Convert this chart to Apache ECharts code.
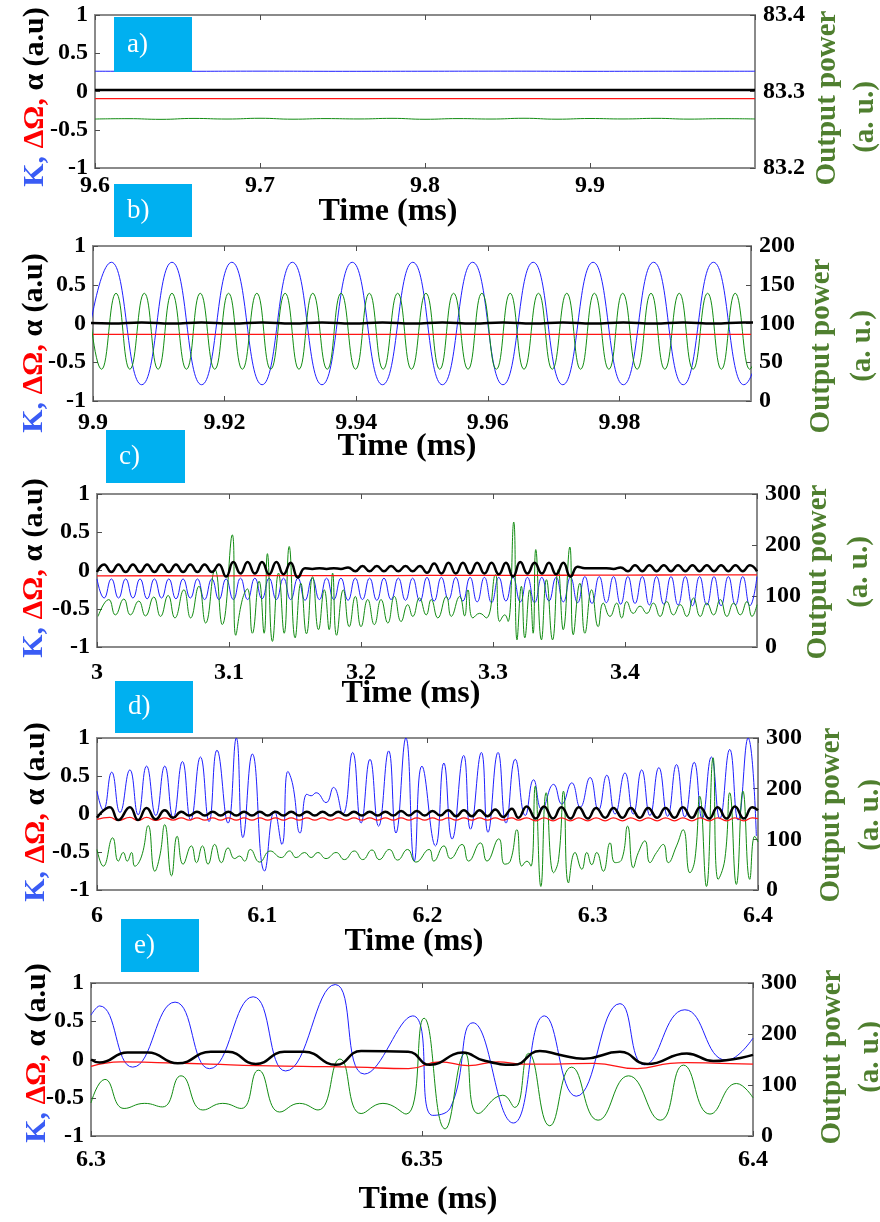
<!DOCTYPE html>
<html>
<head>
<meta charset="utf-8">
<script src="https://cdn.jsdelivr.net/npm/echarts@6/dist/echarts.min.js"></script>
<style>
  html, body { margin: 0; padding: 0; background: #ffffff; }
  #chart { width: 880px; height: 1222px; }
</style>
</head>
<body>
<div id="chart"></div>
<script>
// ---------------- Panel a) : 9.6 – 10 ms, steady state ----------------
const timeA = [9.6, 9.65, 9.7, 9.75, 9.8, 9.85, 9.9, 9.95, 10.0];
const kA = [0.265, 0.264, 0.266, 0.264, 0.265, 0.266, 0.264, 0.265, 0.265];
const dOmegaA = [-0.094, -0.094, -0.094, -0.094, -0.094, -0.094, -0.094, -0.094, -0.094];
const alphaA = [0.02, 0.02, 0.02, 0.02, 0.02, 0.02, 0.02, 0.02, 0.02];
const timePowerA = [9.6, 9.62, 9.64, 9.66, 9.68, 9.7, 9.72, 9.74, 9.76, 9.78, 9.8,
  9.82, 9.84, 9.86, 9.88, 9.9, 9.92, 9.94, 9.96, 9.98, 10.0];
const powerA = [83.2640, 83.2645, 83.2636, 83.2648, 83.2640, 83.2650, 83.2638, 83.2646, 83.2641, 83.2649, 83.2637,
  83.2646, 83.2640, 83.2650, 83.2638, 83.2647, 83.2641, 83.2649, 83.2639, 83.2645, 83.2641];

// ---------------- Panel b) : 9.9 – 10 ms, periodic regime ----------------
const timeB = [9.8982, 9.9028, 9.9074, 9.9120, 9.9165, 9.9211, 9.9257, 9.9303, 9.9348, 9.9394,
  9.9440, 9.9486, 9.9531, 9.9577, 9.9623, 9.9669, 9.9714, 9.9760, 9.9806, 9.9852,
  9.9897, 9.9943, 9.9989, 10.0035];
const kB = [-0.79, 0.79, -0.79, 0.79, -0.79, 0.79, -0.79, 0.79, -0.79, 0.79,
  -0.79, 0.79, -0.79, 0.79, -0.79, 0.79, -0.79, 0.79, -0.79, 0.79,
  -0.79, 0.79, -0.79, 0.79];
const alphaB = [0.014, 0.0, 0.014, 0.0, 0.014, 0.0, 0.014, 0.0, 0.014, 0.0,
  0.014, 0.0, 0.014, 0.0, 0.014, 0.0, 0.014, 0.0, 0.014, 0.0,
  0.014, 0.0, 0.014, 0.0];
const timeRedB = [9.9, 9.95, 10.0];
const dOmegaB = [-0.14, -0.14, -0.14];
const timePowerB = [9.8992, 9.9013, 9.9035, 9.9056, 9.9078, 9.9099, 9.9120, 9.9142, 9.9163, 9.9185,
  9.9206, 9.9227, 9.9249, 9.9270, 9.9292, 9.9313, 9.9334, 9.9356, 9.9377, 9.9399,
  9.9420, 9.9441, 9.9463, 9.9484, 9.9506, 9.9527, 9.9548, 9.9570, 9.9591, 9.9613,
  9.9634, 9.9655, 9.9677, 9.9698, 9.9720, 9.9741, 9.9762, 9.9784, 9.9805, 9.9827,
  9.9848, 9.9869, 9.9891, 9.9912, 9.9934, 9.9955, 9.9976, 9.9998, 10.0019];
const powerB = [139, 41, 139, 41, 139, 41, 139, 41, 139, 41,
  139, 41, 139, 41, 139, 41, 139, 41, 139, 41,
  139, 41, 139, 41, 139, 41, 139, 41, 139, 41,
  139, 41, 139, 41, 139, 41, 139, 41, 139, 41,
  139, 41, 139, 41, 139, 41, 139, 41, 139];

// ---------------- Panel c) : 3 – 3.5 ms ----------------
const timeC = [3.0000, 3.0054, 3.0109, 3.0163, 3.0217, 3.0272, 3.0326, 3.0380, 3.0435, 3.0489,
  3.0544, 3.0598, 3.0652, 3.0707, 3.0761, 3.0815, 3.0870, 3.0924, 3.0978, 3.1033,
  3.1087, 3.1141, 3.1196, 3.1250, 3.1304, 3.1359, 3.1413, 3.1467, 3.1522, 3.1576,
  3.1631, 3.1685, 3.1739, 3.1794, 3.1848, 3.1902, 3.1957, 3.2011, 3.2065, 3.2120,
  3.2174, 3.2228, 3.2283, 3.2337, 3.2391, 3.2446, 3.2500, 3.2554, 3.2609, 3.2663,
  3.2718, 3.2772, 3.2826, 3.2880, 3.2935, 3.2989, 3.3044, 3.3098, 3.3152, 3.3207,
  3.3261, 3.3315, 3.3370, 3.3424, 3.3478, 3.3533, 3.3587, 3.3641, 3.3696, 3.3750,
  3.3805, 3.3859, 3.3913, 3.3967, 3.4022, 3.4076, 3.4131, 3.4185, 3.4239, 3.4294,
  3.4348, 3.4402, 3.4457, 3.4511, 3.4565, 3.4620, 3.4674, 3.4728, 3.4783, 3.4837,
  3.4892, 3.4946, 3.5000];
const kC = [-0.11, -0.36, -0.11, -0.36, -0.11, -0.36, -0.11, -0.37, -0.11, -0.36,
  -0.11, -0.37, -0.11, -0.36, -0.11, -0.38, -0.11, -0.38, -0.11, -0.38,
  -0.10, -0.38, -0.10, -0.37, -0.10, -0.38, -0.10, -0.38, -0.10, -0.39,
  -0.10, -0.38, -0.10, -0.38, -0.10, -0.39, -0.10, -0.38, -0.10, -0.39,
  -0.10, -0.38, -0.10, -0.39, -0.10, -0.40, -0.09, -0.40, -0.09, -0.38,
  -0.09, -0.40, -0.09, -0.41, -0.09, -0.42, -0.09, -0.40, -0.09, -0.41,
  -0.09, -0.42, -0.09, -0.40, -0.09, -0.41, -0.09, -0.42, -0.08, -0.43,
  -0.08, -0.42, -0.08, -0.44, -0.08, -0.43, -0.08, -0.45, -0.08, -0.44,
  -0.08, -0.45, -0.08, -0.46, -0.08, -0.45, -0.08, -0.46, -0.08, -0.45,
  -0.08, -0.46, -0.08];
const alphaC = [-0.02, 0.08, -0.02, 0.08, -0.02, 0.08, -0.02, 0.08, -0.02, 0.08,
  -0.02, 0.08, -0.02, 0.08, -0.02, 0.08, -0.02, 0.08, -0.08, 0.11,
  -0.04, 0.11, -0.04, 0.11, -0.05, 0.11, -0.05, 0.10, -0.09, 0.03,
  0.02, 0.03, 0.02, 0.03, 0.02, 0.04, -0.01, 0.06, -0.01, 0.06,
  -0.01, 0.06, -0.01, 0.06, -0.01, 0.06, -0.03, 0.09, -0.04, 0.10,
  -0.04, 0.10, -0.04, 0.10, -0.04, 0.10, -0.05, 0.10, -0.08, 0.11,
  -0.04, 0.10, -0.04, 0.10, -0.05, 0.10, -0.08, 0.05, 0.03, 0.03,
  0.03, 0.03, 0.02, 0.04, -0.01, 0.07, -0.01, 0.07, -0.01, 0.07,
  -0.01, 0.07, -0.01, 0.07, -0.01, 0.07, -0.01, 0.07, -0.01, 0.07,
  -0.01, 0.07, -0.01];
const timeRedC = [3.0, 3.05, 3.1, 3.15, 3.2, 3.25, 3.3, 3.35, 3.4, 3.45, 3.5];
const dOmegaC = [-0.07, -0.068, -0.07, -0.066, -0.066, -0.065, -0.064, -0.062, -0.06, -0.058, -0.056];
const timePowerC = [3.0008, 3.0089, 3.0139, 3.0203, 3.0253, 3.0316, 3.0367, 3.0430, 3.0481, 3.0539,
  3.0590, 3.0658, 3.0709, 3.0772, 3.0823, 3.0894, 3.0949, 3.1025, 3.1051, 3.1101,
  3.1139, 3.1177, 3.1228, 3.1266, 3.1291, 3.1329, 3.1375, 3.1418, 3.1456, 3.1501,
  3.1544, 3.1587, 3.1633, 3.1678, 3.1722, 3.1759, 3.1785, 3.1815, 3.1866, 3.1911,
  3.1957, 3.2000, 3.2051, 3.2101, 3.2152, 3.2203, 3.2253, 3.2304, 3.2354, 3.2392,
  3.2443, 3.2494,
  3.2532, 3.2582, 3.2646, 3.2684, 3.2747, 3.2785, 3.2810, 3.2848, 3.2899, 3.2949,
  3.3018, 3.3051, 3.3089, 3.3114, 3.3157, 3.3182, 3.3215, 3.3241, 3.3278, 3.3304,
  3.3324, 3.3367, 3.3405, 3.3451, 3.3494, 3.3532, 3.3582, 3.3608, 3.3658, 3.3696,
  3.3747, 3.3797, 3.3835, 3.3886, 3.3937, 3.3975, 3.4013, 3.4063, 3.4114, 3.4165,
  3.4215, 3.4266, 3.4316, 3.4367, 3.4418, 3.4468, 3.4519, 3.4570, 3.4620, 3.4671,
  3.4722, 3.4772, 3.4823, 3.4873, 3.4924, 3.4962, 3.5000];
const powerC = [60, 93, 63, 94, 63, 90, 61, 98, 60, 101,
  57, 112, 57, 119, 47, 152, 44, 220, 23, 93,
  114, 27, 129, 27, 183, 11, 145, 27, 197, 18,
  125, 26, 138, 34, 112, 34, 145, 23, 112, 40,
  99, 40, 93, 44, 93, 47, 99, 50, 83, 60,
  96, 63,
  93, 57, 99, 60, 99, 61, 112, 57, 66, 57,
  142, 50, 63, 50, 245, 14, 119, 18, 112, 27,
  191, 14, 132, 14, 152, 34, 196, 24, 125, 27,
  112, 40, 86, 60, 86, 57, 89, 66, 80, 66,
  86, 60, 89, 63, 83, 60, 96, 60, 86, 63,
  93, 60, 86, 63, 89, 60, 83];

// ---------------- Panel d) : 6 – 6.4 ms ----------------
const timeKD = [6.0000, 6.0038, 6.0089, 6.0139, 6.0199, 6.0249, 6.0300, 6.0356, 6.0410, 6.0461,
  6.0517, 6.0567, 6.0626, 6.0678, 6.0726, 6.0793, 6.0843, 6.0883, 6.0940, 6.1014,
  6.1074, 6.1119, 6.1155, 6.1185, 6.1229, 6.1270, 6.1296, 6.1326, 6.1386, 6.1431,
  6.1487, 6.1547, 6.1598, 6.1652, 6.1704, 6.1765, 6.1809, 6.1869, 6.1920, 6.1966,
  6.2048, 6.2099, 6.2149, 6.2219, 6.2260, 6.2326, 6.2366, 6.2427, 6.2475, 6.2531,
  6.2592, 6.2642, 6.2692, 6.2763, 6.2813, 6.2873, 6.2924, 6.2984, 6.3034, 6.3085,
  6.3135, 6.3195, 6.3245, 6.3296, 6.3346, 6.3400, 6.3453, 6.3507, 6.3557, 6.3614,
  6.3662, 6.3718, 6.3769, 6.3829, 6.3879, 6.3940, 6.3990];
const kD = [0.30, 0.05, 0.55, 0.02, 0.58, -0.01, 0.63, -0.02, 0.63, -0.05,
  0.69, -0.08, 0.75, -0.10, 0.84, -0.12, 1.00, -0.31, 0.79, -0.75,
  0.04, -0.40, 0.56, 0.38, -0.25, 0.26, 0.24, 0.28, 0.15, 0.35,
  0.00, 0.81, -0.12, 0.72, -0.16, 0.83, -0.25, 1.00, -0.62, 0.63,
  -0.42, 0.67, -0.33, 0.77, -0.20, 0.81, -0.24, 0.81, -0.12, 0.72,
  -0.02, 0.45, 0.06, 0.39, 0.13, 0.41, 0.09, 0.48, 0.05, 0.51,
  0.00, 0.54, 0.00, 0.58, -0.02, 0.61, -0.03, 0.65, -0.04, 0.68,
  -0.06, 0.75, -0.06, 0.85, -0.08, 1.00, -0.29];
const timeAlphaD = [6.0000, 6.0078, 6.0129, 6.0199, 6.0249, 6.0300, 6.0356, 6.0410, 6.0461,
  6.0510, 6.0558, 6.0605, 6.0653, 6.0700, 6.0748, 6.0795, 6.0843, 6.0890, 6.0938,
  6.0985, 6.1033, 6.1080, 6.1128, 6.1175, 6.1223, 6.1270, 6.1318, 6.1365, 6.1413,
  6.1460, 6.1508, 6.1555, 6.1603, 6.1650, 6.1698, 6.1745, 6.1793, 6.1840, 6.1888,
  6.1935, 6.1983, 6.2030, 6.2078, 6.2125, 6.2173, 6.2220, 6.2268, 6.2315, 6.2363,
  6.2410, 6.2458, 6.2510, 6.2550,
  6.2600, 6.2655, 6.2705, 6.2760, 6.2810, 6.2865, 6.2915, 6.2970, 6.3020, 6.3075,
  6.3125, 6.3180, 6.3230, 6.3285, 6.3335, 6.3390, 6.3440, 6.3495, 6.3545, 6.3600,
  6.3650, 6.3705, 6.3755, 6.3810, 6.3860, 6.3915, 6.3965, 6.4000];
const alphaD = [-0.05, 0.09, -0.08, 0.09, -0.08, 0.08, -0.07, 0.05, -0.05,
  0.03, -0.02, 0.03, -0.02, 0.03, -0.02, 0.03, -0.02, 0.03, -0.02,
  0.03, -0.02, 0.03, -0.02, 0.03, -0.02, 0.03, -0.02, 0.03, -0.02,
  0.03, -0.02, 0.03, -0.02, 0.03, -0.02, 0.03, -0.02, 0.04, -0.02,
  0.04, -0.02, 0.04, -0.02, 0.05, -0.03, 0.05, -0.03, 0.05, -0.03,
  0.06, -0.04, 0.07, -0.05,
  0.10, -0.06, 0.10, -0.06, 0.09, -0.06, 0.09, -0.06, 0.08, -0.05,
  0.08, -0.05, 0.08, -0.05, 0.08, -0.05, 0.08, -0.05, 0.09, -0.05,
  0.09, -0.06, 0.09, -0.06, 0.10, -0.06, 0.09, 0.05];
const dOmegaD = [-0.07, -0.045, -0.085, -0.045, -0.085, -0.045, -0.085, -0.05, -0.08,
  -0.05, -0.08, -0.05, -0.08, -0.05, -0.08, -0.05, -0.08, -0.05, -0.08,
  -0.05, -0.08, -0.05, -0.08, -0.05, -0.08, -0.05, -0.08, -0.05, -0.08,
  -0.05, -0.08, -0.05, -0.08, -0.05, -0.08, -0.05, -0.08, -0.05, -0.08,
  -0.05, -0.08, -0.05, -0.08, -0.05, -0.08, -0.05, -0.08, -0.05, -0.08,
  -0.05, -0.08, -0.05, -0.08,
  -0.05, -0.09, -0.05, -0.09, -0.05, -0.09, -0.05, -0.09, -0.05, -0.09,
  -0.05, -0.09, -0.05, -0.09, -0.05, -0.09, -0.05, -0.09, -0.05, -0.09,
  -0.05, -0.09, -0.05, -0.09, -0.05, -0.09, -0.05, -0.06];
const timePowerD = [6.0000, 6.0038, 6.0095, 6.0129, 6.0159, 6.0183, 6.0209, 6.0229, 6.0270, 6.0310,
  6.0350, 6.0380, 6.0410, 6.0451, 6.0485, 6.0521, 6.0571, 6.0602, 6.0638, 6.0672,
  6.0712, 6.0753, 6.0793, 6.0833, 6.0863, 6.0893, 6.0928, 6.0984, 6.1048, 6.1115,
  6.1165, 6.1205, 6.1256, 6.1296, 6.1336, 6.1386, 6.1447, 6.1497, 6.1557, 6.1608,
  6.1664, 6.1708, 6.1769, 6.1819, 6.1879, 6.1930, 6.2010, 6.2038, 6.2099, 6.2139,
  6.2209, 6.2249, 6.2320, 6.2360, 6.2431, 6.2467, 6.2501, 6.2541, 6.2571, 6.2602,
  6.2626, 6.2652, 6.2686, 6.2718, 6.2763, 6.2793, 6.2823, 6.2853, 6.2893, 6.2934,
  6.2964, 6.2994, 6.3024, 6.3064, 6.3105, 6.3135, 6.3175, 6.3211, 6.3245, 6.3276,
  6.3316, 6.3346, 6.3386, 6.3427, 6.3457, 6.3507, 6.3547, 6.3588, 6.3618, 6.3648,
  6.3688, 6.3728, 6.3759, 6.3799, 6.3829, 6.3869, 6.3909, 6.3950, 6.3980, 6.4000];
const powerD = [80, 47, 103, 57, 74, 57, 74, 47, 67, 127,
  37, 67, 129, 28, 106, 51, 87, 54, 87, 51,
  90, 54, 83, 62, 67, 57, 80, 55, 77, 64,
  77, 64, 74, 64, 74, 62, 74, 60, 77, 60,
  79, 60, 80, 59, 80, 55, 80, 57, 87, 62,
  90, 57, 93, 57, 101, 51, 57, 119, 47, 57,
  47, 205, 7, 192, 34, 60, 195, 14, 74, 41,
  74, 50, 74, 37, 93, 54, 60, 126, 44, 74,
  97, 54, 74, 90, 54, 87, 119, 34, 60, 185,
  7, 261, 21, 60, 192, 11, 195, 21, 106, 95];

// ---------------- Panel e) : 6.3 – 6.4 ms ----------------
const timeKE = [6.3000, 6.3013, 6.3063, 6.3127, 6.3179, 6.3245, 6.3294, 6.3369, 6.3413, 6.3486,
  6.3516, 6.3543, 6.3577, 6.3638, 6.3685, 6.3733, 6.3799, 6.3836, 6.3897, 6.3960,
  6.4000];
const kE = [0.58, 0.70, -0.10, 0.75, -0.12, 0.82, -0.15, 0.98, -0.19, 0.57,
  -0.73, -0.63, 0.48, -0.83, 0.57, -0.48, 0.73, -0.07, 0.65, -0.01,
  0.28];
const timeAlphaE = [6.3000, 6.3013, 6.3055, 6.3086, 6.3131, 6.3181, 6.3207, 6.3249, 6.3292, 6.3322,
  6.3370, 6.3408, 6.3479, 6.3512, 6.3562, 6.3592, 6.3638, 6.3678, 6.3709, 6.3744,
  6.3799, 6.3840, 6.3900, 6.3940, 6.4000];
const alphaE = [0.00, -0.04, 0.09, 0.09, -0.05, 0.10, 0.10, -0.06, 0.10, 0.10,
  -0.07, 0.11, 0.10, -0.07, 0.09, -0.01, -0.07, 0.11, 0.06, 0.01,
  0.10, -0.06, 0.08, -0.02, 0.06];
const timeRedE = [6.3000, 6.3045, 6.3100, 6.3180, 6.3250, 6.3320, 6.3400, 6.3480, 6.3527, 6.3570,
  6.3615, 6.3650, 6.3700, 6.3760, 6.3825, 6.3875, 6.3900, 6.3950, 6.4000];
const dOmegaE = [-0.09, -0.03, -0.04, -0.06, -0.08, -0.09, -0.10, -0.12, -0.03, -0.08,
  -0.03, -0.06, -0.06, -0.05, -0.12, -0.05, -0.04, -0.05, -0.06];
const timePowerE = [6.3000, 6.3021, 6.3050, 6.3081, 6.3108, 6.3136, 6.3169, 6.3199, 6.3227, 6.3253,
  6.3285, 6.3315, 6.3343, 6.3376, 6.3408, 6.3441, 6.3476, 6.3503, 6.3535, 6.3565,
  6.3585, 6.3622, 6.3640, 6.3661, 6.3693, 6.3726, 6.3766, 6.3812, 6.3860, 6.3895,
  6.3935, 6.3975, 6.4000];
const powerE = [65, 111, 54, 64, 57, 118, 51, 64, 54, 129,
  47, 64, 51, 151, 44, 64, 43, 231, 14, 162,
  44, 80, 56, 162, 20, 135, 31, 118, 31, 139,
  43, 103, 75];

// ---------------- Axis ranges (left axis is shared: -1 … 1) ----------------
const timeRanges = [[9.6, 10.0, 0.1], [9.9, 10.0, 0.02], [3.0, 3.5, 0.1], [6.0, 6.4, 0.1], [6.3, 6.4, 0.05]];
const powerRanges = [[83.2, 83.4, 0.1], [0, 200, 50], [0, 300, 100], [0, 300, 100], [0, 300, 100]];
const panelTags = ['a)', 'b)', 'c)', 'd)', 'e)'];

// ---------------- Drawing ----------------
const COLORS = { k: '#1f1fff', dOmega: '#ff1414', alpha: '#000000', power: '#128c12' };
const SERIF = '"Liberation Serif", "Times New Roman", serif';
const BORDER = '#8a8a8a';

// layout of each panel on the page (px)
const frames = [
  { left: 95, top: 15,  width: 660, height: 153, xMargin: 6,  showMax: false, box: [114, 17, 78, 55],
    timeTitle: [388, 212], leftTitle: [35, 97], rightTitle: [828, 98, 866, 117] },
  { left: 93, top: 246, width: 658, height: 155, xMargin: 10, showMax: false, box: [114, 184, 78, 53],
    timeTitle: [407, 447], leftTitle: [34, 343], rightTitle: [822, 346, 863, 346] },
  { left: 97, top: 494, width: 660, height: 153, xMargin: 14, showMax: false, box: [106, 430, 79, 53],
    timeTitle: [411, 694], leftTitle: [34, 568], rightTitle: [819, 572, 860, 572] },
  { left: 97, top: 738, width: 661, height: 152, xMargin: 14, showMax: true, box: [115, 681, 78, 52],
    timeTitle: [414, 942], leftTitle: [36, 812], rightTitle: [832, 815, 871, 815] },
  { left: 91, top: 983, width: 662, height: 153, xMargin: 12, showMax: true, box: [121, 919, 78, 53],
    timeTitle: [428, 1200], leftTitle: [37, 1053], rightTitle: [833, 1057, 871, 1057] }
];

const panelSeries = [
  { k: [timeA, kA], dOmega: [timeA, dOmegaA], alpha: [timeA, alphaA], power: [timePowerA, powerA] },
  { k: [timeB, kB], dOmega: [timeRedB, dOmegaB], alpha: [timeB, alphaB], power: [timePowerB, powerB] },
  { k: [timeC, kC], dOmega: [timeRedC, dOmegaC], alpha: [timeC, alphaC], power: [timePowerC, powerC] },
  { k: [timeKD, kD], dOmega: [timeAlphaD, dOmegaD], alpha: [timeAlphaD, alphaD], power: [timePowerD, powerD] },
  { k: [timeKE, kE], dOmega: [timeRedE, dOmegaE], alpha: [timeAlphaE, alphaE], power: [timePowerE, powerE] }
];

function zip(t, v) { return t.map((x, j) => [x, v[j]]); }

const tickFont = { fontFamily: SERIF, fontWeight: 'bold', fontSize: 24, color: '#000' };
const axisLineStyle = { show: true, onZero: false, lineStyle: { color: BORDER, width: 2 } };
const tickStyle = { show: true, inside: true, length: 5, lineStyle: { color: '#4d4d4d', width: 1 } };

const grids = [], xAxes = [], yAxes = [], series = [], graphics = [];

frames.forEach((f, i) => {
  grids.push({ left: f.left, top: f.top, width: f.width, height: f.height,
    show: true, borderColor: BORDER, borderWidth: 2, backgroundColor: '#ffffff' });

  const [tMin, tMax, tStep] = timeRanges[i];
  xAxes.push({ type: 'value', gridIndex: i, position: 'bottom', min: tMin, max: tMax, interval: tStep,
    axisLine: axisLineStyle, axisTick: tickStyle, splitLine: { show: false },
    axisLabel: Object.assign({ margin: f.xMargin, showMaxLabel: f.showMax, showMinLabel: true }, tickFont) });
  xAxes.push({ type: 'value', gridIndex: i, position: 'top', min: tMin, max: tMax, interval: tStep,
    axisLine: axisLineStyle, axisTick: tickStyle, splitLine: { show: false }, axisLabel: { show: false } });

  yAxes.push({ type: 'value', gridIndex: i, position: 'left', min: -1, max: 1, interval: 0.5,
    axisLine: axisLineStyle, axisTick: tickStyle, splitLine: { show: false },
    axisLabel: Object.assign({ margin: 7 }, tickFont) });
  const [pMin, pMax, pStep] = powerRanges[i];
  yAxes.push({ type: 'value', gridIndex: i, position: 'right', min: pMin, max: pMax, interval: pStep,
    axisLine: axisLineStyle, axisTick: tickStyle, splitLine: { show: false },
    axisLabel: Object.assign({ margin: 8 }, tickFont) });

  const s = panelSeries[i];
  const mk = (pair, yIdx, color, width, z, name) => ({
    type: 'line', name, xAxisIndex: 2 * i, yAxisIndex: 2 * i + yIdx,
    data: zip(pair[0], pair[1]), showSymbol: false, symbol: 'none', smooth: 0.5,
    lineStyle: { color, width }, z, silent: true, animation: false, clip: true
  });
  series.push(mk(s.k, 0, COLORS.k, 1, 2, 'K'));
  series.push(mk(s.power, 1, COLORS.power, 1, 3, 'Output power'));
  series.push(mk(s.dOmega, 0, COLORS.dOmega, 1.3, 4, 'ΔΩ'));
  series.push(mk(s.alpha, 0, COLORS.alpha, 2.5, 5, 'α'));

  // panel tag box
  const [bx, by, bw, bh] = f.box;
  graphics.push({ type: 'rect', shape: { x: bx, y: by, width: bw, height: bh },
    style: { fill: '#00b0f0' }, z: 100 });
  graphics.push({ type: 'text', x: bx + 13, y: by + bh / 2, z: 101,
    style: { text: panelTags[i], fill: '#ffffff', font: '27px ' + SERIF, align: 'left', verticalAlign: 'middle' } });

  // x axis title
  graphics.push({ type: 'text', x: f.timeTitle[0], y: f.timeTitle[1], z: 101,
    style: { text: 'Time (ms)', fill: '#000', font: 'bold 32px ' + SERIF, align: 'center', verticalAlign: 'middle' } });

  // left axis title (coloured by quantity)
  const titleFont = 'bold 30px ' + SERIF;
  graphics.push({ type: 'text', x: f.leftTitle[0], y: f.leftTitle[1], rotation: Math.PI / 2, z: 101,
    style: { text: '{k|K, }{d|ΔΩ, }{a|α (a.u)}', font: titleFont, align: 'center', verticalAlign: 'middle',
      rich: { k: { fill: '#3a5cf5', font: titleFont }, d: { fill: '#ff0000', font: titleFont }, a: { fill: '#000000', font: titleFont } } } });

  // right axis title
  const rt = f.rightTitle;
  graphics.push({ type: 'text', x: rt[0], y: rt[1], rotation: Math.PI / 2, z: 101,
    style: { text: 'Output power', fill: '#4f7f2f', font: 'bold 29px ' + SERIF, align: 'center', verticalAlign: 'middle' } });
  graphics.push({ type: 'text', x: rt[2], y: rt[3], rotation: Math.PI / 2, z: 101,
    style: { text: '(a. u.)', fill: '#4f7f2f', font: 'bold 29px ' + SERIF, align: 'center', verticalAlign: 'middle' } });
});

const chart = echarts.init(document.getElementById('chart'), null, { renderer: 'canvas', width: 880, height: 1222 });
chart.setOption({
  backgroundColor: '#ffffff',
  animation: false,
  grid: grids,
  xAxis: xAxes,
  yAxis: yAxes,
  series: series,
  graphic: graphics
});
</script>
</body>
</html>
